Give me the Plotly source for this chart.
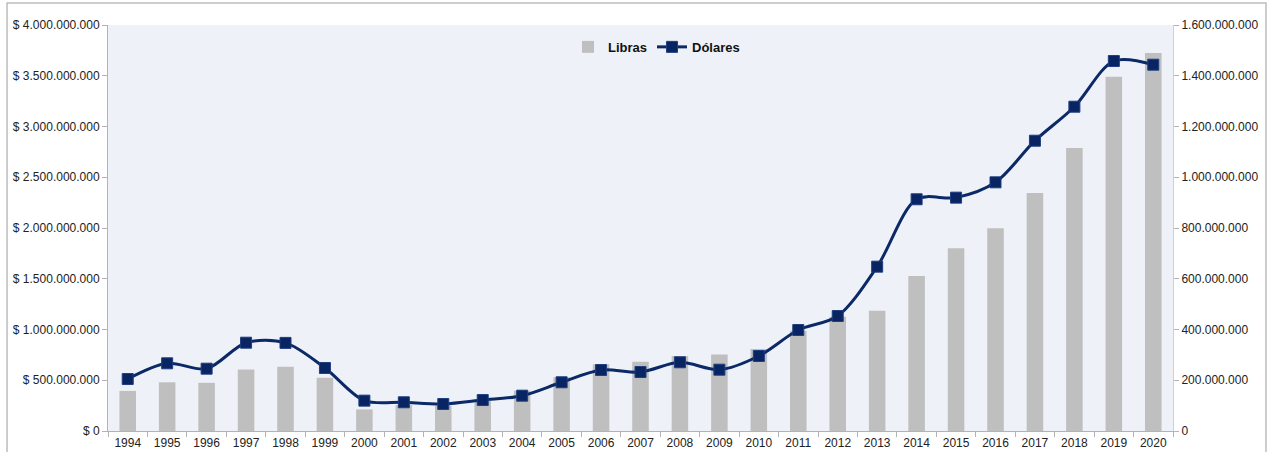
import plotly.graph_objects as go

years = [str(y) for y in range(1994, 2021)]

# Dólares (left axis, $)
dolares = [512e6, 667e6, 614e6, 870e6, 868e6, 621e6, 299e6, 283e6, 266e6, 305e6,
           348e6, 480e6, 601e6, 581e6, 677e6, 604e6, 739e6, 995e6, 1133e6, 1619e6,
           2283e6, 2299e6, 2450e6, 2860e6, 3195e6, 3645e6, 3609e6]

# Libras (right axis)
libras = [158e6, 192e6, 190e6, 242e6, 253e6, 210e6, 85e6, 102e6, 100e6, 118e6,
          159e6, 212e6, 263e6, 273e6, 296e6, 301e6, 323e6, 395e6, 450e6, 474e6,
          611e6, 720e6, 799e6, 938e6, 1115e6, 1396e6, 1490e6]

left_ticks = [i * 500e6 for i in range(9)]
right_ticks = [i * 200e6 for i in range(9)]


def fmt(v):
    return f"{int(v):,}".replace(",", ".")


left_text = ["&#36; " + fmt(v) for v in left_ticks]
right_text = [fmt(v) for v in right_ticks]

fig = go.Figure()
fig.add_trace(go.Bar(
    x=years, y=libras, name="Libras", yaxis="y",
    marker=dict(color="#BFBFBF", line=dict(width=0)),
    width=0.42,
))
fig.add_trace(go.Scatter(
    x=years, y=dolares, name="Dólares", yaxis="y2",
    mode="lines+markers",
    line=dict(color="#0B2867", width=3, shape="spline", smoothing=0.9),
    marker=dict(symbol="square", size=11, color="#082462",
                line=dict(color="#1F3F80", width=1)),
))

axis_font = dict(family="Liberation Sans, Arial, sans-serif", size=12, color="#222222")

fig.update_layout(
    width=1269, height=452, autosize=False,
    margin=dict(l=108, r=96, t=25, b=21, autoexpand=False),
    paper_bgcolor="white",
    plot_bgcolor="#EEF2F8",
    font=axis_font,
    showlegend=True,
    legend=dict(orientation="h", x=0.515, xanchor="center", y=0.946, yanchor="middle",
                bgcolor="rgba(0,0,0,0)",
                font=dict(family="Liberation Sans, Arial, sans-serif", size=13,
                          color="#111111", weight="bold"),
                tracegroupgap=0),
    xaxis=dict(
        type="category", range=[-0.5, 26.5], autorange=False,
        showgrid=False, showline=True, linecolor="#B3B3B3", linewidth=1,
        ticks="outside", tickson="boundaries", ticklen=5, tickcolor="#B3B3B3",
        tickfont=dict(family="Liberation Sans, Arial, sans-serif", size=12, color="#222222"),
        ticklabelstandoff=1, zeroline=False,
    ),
    yaxis=dict(
        range=[0, 1.6e9], tickmode="array", tickvals=right_ticks, ticktext=right_text,
        side="right",
        showgrid=False, showline=True, linecolor="#D0D0D0", linewidth=1,
        ticks="outside", ticklen=5, tickcolor="#B3B3B3", zeroline=False,
        tickfont=axis_font,
    ),
    yaxis2=dict(
        range=[0, 4e9], tickmode="array", tickvals=left_ticks, ticktext=left_text,
        overlaying="y", side="left",
        showgrid=False, showline=True, linecolor="#B3B3B3", linewidth=1,
        ticks="outside", ticklen=5, tickcolor="#B3B3B3", zeroline=False,
        tickfont=axis_font,
    ),
    shapes=[dict(type="rect", xref="paper", yref="paper",
                 x0=-0.0948, x1=1.0873, y0=-0.08, y1=1.0542,
                 line=dict(color="#BDBDBD", width=1.5), fillcolor="rgba(0,0,0,0)",
                 layer="above")],
)

fig.write_html("out.html", config={"displayModeBar": False},
               post_script="document.body.style.margin='0px';")
